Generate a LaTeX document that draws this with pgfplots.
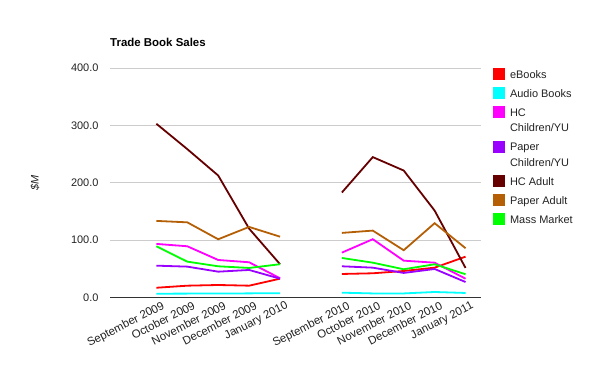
\documentclass[border=0pt]{standalone}
\usepackage{pgfplots}
\pgfplotsset{compat=1.18}
\usepackage{fontspec}
\setmainfont{Liberation Sans}
\definecolor{cEbook}{HTML}{FF0000}
\definecolor{cAudio}{HTML}{00FFFF}
\definecolor{cHCC}{HTML}{FF00FF}
\definecolor{cPC}{HTML}{9900FF}
\definecolor{cHCA}{HTML}{660000}
\definecolor{cPA}{HTML}{B45F06}
\definecolor{cMM}{HTML}{00FF00}
\definecolor{txt}{HTML}{222222}
\newcommand{\twoline}[2]{\vtop{\baselineskip=15.5bp\hbox{#1}\hbox{#2\vrule width0pt depth2bp}}}
\begin{document}
\begin{tikzpicture}
\useasboundingbox (0,0) rectangle (591bp,365bp);
\begin{axis}[
  at={(110bp,67.5bp)}, anchor=south west,
  scale only axis, width=371bp, height=229.5bp,
  xmin=-0.5, xmax=11.5, ymin=0, ymax=400,
  unbounded coords=jump,
  axis line style={draw=none},
  major tick length=0pt,
  ytick={0,100,...,400},
  ymajorgrids, grid style={draw=black!20, line width=0.8bp},
  extra y ticks={0}, extra y tick labels={},
  extra y tick style={grid style={draw=black!80, line width=1.2bp}},
  xtick={1,2,3,4,5,7,8,9,10,11},
  xticklabels={September 2009, October 2009, November 2009, December 2009, January 2010, September 2010, October 2010, November 2010, December 2010, January 2011},
  x tick label style={rotate=27, anchor=north east, font=\fontsize{11.5}{13}\selectfont, text=txt, inner sep=0bp, yshift=-5bp, xshift=3bp},
  y tick label style={font=\fontsize{11}{13}\selectfont, text=txt, xshift=-8bp},
  /pgf/number format/assume math mode=true,
  yticklabel={\pgfmathprintnumber[fixed, fixed zerofill, precision=1, 1000 sep={}]{\tick}},
  ylabel={\textit{\$M}},
  ylabel style={at={(axis description cs:-0.202,0.5)}, anchor=center, text=txt, font=\fontsize{11}{13}\selectfont},
  legend cell align=left,
  legend style={draw=none, fill=none, inner sep=0pt, at={(1.032,1)}, anchor=north west,
    font=\fontsize{11}{13}\selectfont, text=txt, row sep=7bp, column sep=5bp,
    nodes={inner sep=0pt, text depth=}, cells={anchor=base west}},
  legend image code/.code={\fill[#1, draw=none] (0bp,-2bp) rectangle (12bp,10bp);},
  every axis plot/.append style={line width=1.8bp, mark=none},
]
\addplot[color=cEbook] coordinates {(1,17) (2,20.6) (3,21.8) (4,20.6) (5,32.8) (6,nan) (7,41) (8,42.2) (9,46.2) (10,52) (11,71.2)};
\addlegendentry{eBooks}
\addplot[color=cAudio] coordinates {(1,6.6) (2,6.8) (3,6.8) (4,7.2) (5,7.5) (6,nan) (7,8.4) (8,7.1) (9,7.1) (10,9.6) (11,7.9)};
\addlegendentry{Audio Books}
\addplot[color=cHCC] coordinates {(1,93.4) (2,89.3) (3,65.4) (4,61.4) (5,33.5) (6,nan) (7,78.2) (8,101.6) (9,64.2) (10,60.7) (11,32.8)};
\addlegendentry{\twoline{HC}{Children/YU}}
\addplot[color=cPC] coordinates {(1,55.5) (2,53.8) (3,45) (4,48) (5,32.8) (6,nan) (7,54.4) (8,52) (9,42.8) (10,49.7) (11,27)};
\addlegendentry{\twoline{Paper}{Children/YU}}
\addplot[color=cHCA] coordinates {(1,302.8) (2,258.6) (3,212.6) (4,120) (5,58) (6,nan) (7,183) (8,244.7) (9,221.3) (10,151.5) (11,51.5)};
\addlegendentry{HC Adult}
\addplot[color=cPA] coordinates {(1,133.5) (2,131) (3,101.5) (4,123) (5,106) (6,nan) (7,112.6) (8,116.6) (9,82.4) (10,129.5) (11,85.9)};
\addlegendentry{Paper Adult}
\addplot[color=cMM] coordinates {(1,89.3) (2,62.5) (3,54.4) (4,51.5) (5,58) (6,nan) (7,68.9) (8,60.7) (9,49.2) (10,57.9) (11,40.5)};
\addlegendentry{Mass Market}
\end{axis}
\node[anchor=base west, inner sep=0pt, text=black, font=\fontsize{11.5}{14}\selectfont\bfseries] at (110bp,318.3bp) {Trade Book Sales};
\end{tikzpicture}
\end{document}
